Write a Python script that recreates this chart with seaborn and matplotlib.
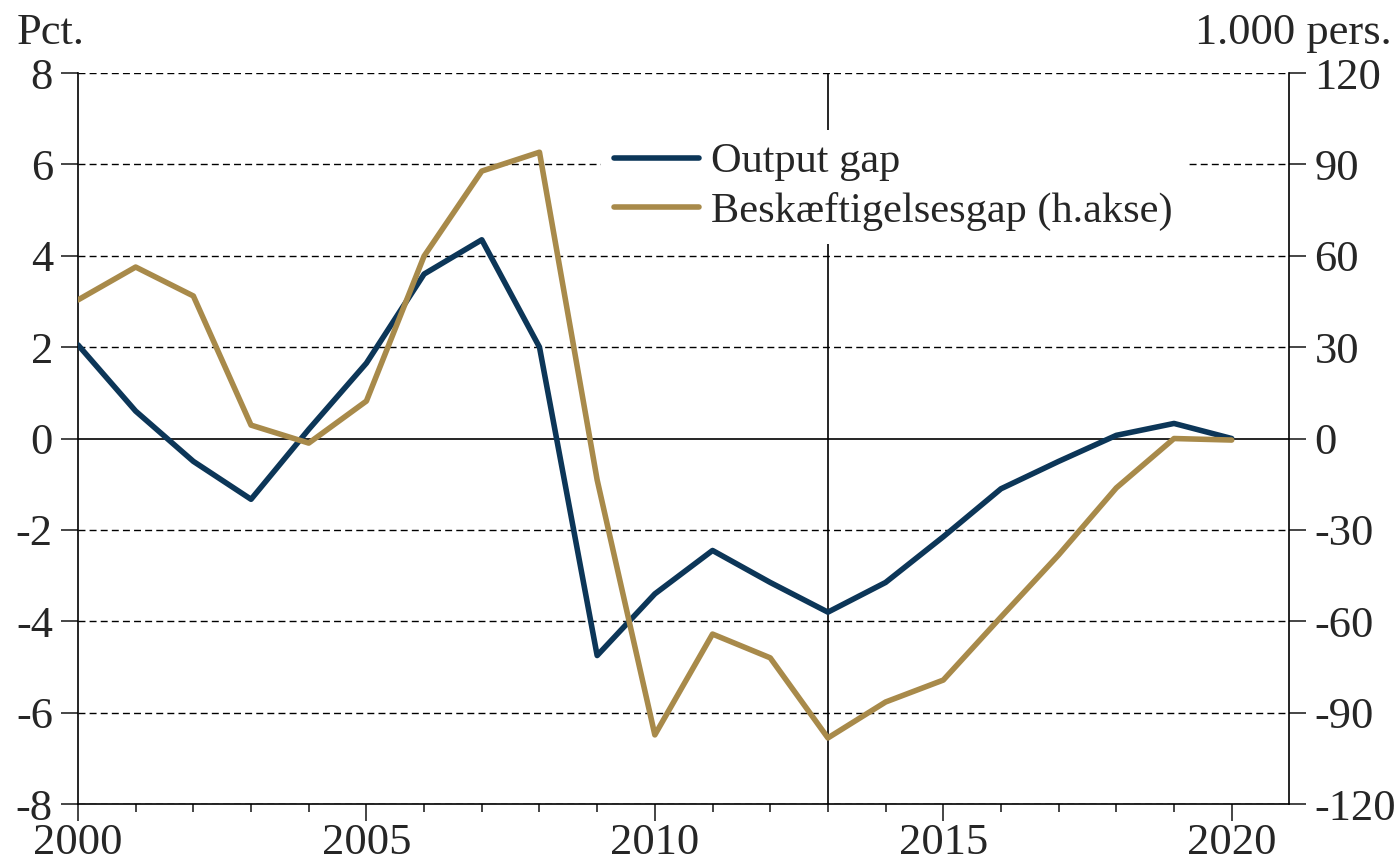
import numpy as np
import pandas as pd
import matplotlib
matplotlib.use('Agg')
import matplotlib.pyplot as plt
import seaborn as sns

years = list(range(2000, 2021))
output_gap = [2.05, 0.6, -0.5, -1.33, 0.2, 1.65, 3.6, 4.35, 2.0, -4.75, -3.4,
              -2.45, -3.15, -3.8, -3.15, -2.15, -1.1, -0.5, 0.07, 0.33, 0.0]
empl_gap = [45.5, 56.3, 46.8, 4.4, -1.5, 12.3, 59.9, 87.8, 94.0, -13.6, -97.3,
            -64.2, -72.0, -98.3, -86.5, -79.3, -58.6, -38.2, -16.2, 0.0, -0.5]
left_ticks = [-8, -6, -4, -2, 0, 2, 4, 6, 8]
right_ticks = [-120, -90, -60, -30, 0, 30, 60, 90, 120]
year_ticks = [2000, 2005, 2010, 2015, 2020]

navy = '#0c3658'
gold = '#a88a4a'

sns.set_style('white')
plt.rcParams['font.family'] = ['Liberation Serif', 'DejaVu Serif']
plt.rcParams['axes.unicode_minus'] = False
fs = 32

df = pd.DataFrame({'year': years, 'og': output_gap, 'eg': empl_gap})

fig = plt.figure(figsize=(14, 8.64), dpi=100)
ax = fig.add_axes([0.0557, 0.0694, 0.921 - 0.0557, 0.9155 - 0.0694])
ax2 = ax.twinx()

for y in left_ticks:
    if y == 0:
        ax.axhline(y, color='black', lw=1.2, zorder=1)
    else:
        ax.axhline(y, color='black', lw=1.0, ls=(0, (5, 3)), zorder=1)
ax.axvline(2013, color='black', lw=1.2, zorder=1)

sns.lineplot(data=df, x='year', y='og', ax=ax, color=navy, lw=4, label='Output gap', legend=False, zorder=3)
sns.lineplot(data=df, x='year', y='eg', ax=ax2, color=gold, lw=4, label='Beskæftigelsesgap (h.akse)', legend=False, zorder=3)

ax.set_xlim(2000, 2021)
ax.set_ylim(-8, 8)
ax2.set_ylim(-120, 120)
ax.set_yticks(left_ticks)
ax2.set_yticks(right_ticks)
ax.set_xticks(year_ticks)
ax.set_xticks(years, minor=True)
ax.set_xlabel('')
ax.set_ylabel('')
ax2.set_ylabel('')

for a in (ax, ax2):
    a.spines['top'].set_visible(False)
    for s in ('left', 'right', 'bottom'):
        a.spines[s].set_color('black')
        a.spines[s].set_linewidth(1.2)
ax.spines['right'].set_visible(False)
ax2.spines['left'].set_visible(False)
ax2.spines['bottom'].set_visible(False)

ax.tick_params(axis='y', direction='out', length=12, width=1.2, labelsize=fs, pad=6, left=True)
ax.tick_params(axis='x', which='major', direction='out', length=12, width=1.2, labelsize=fs, pad=2, bottom=True)
ax.tick_params(axis='x', which='minor', direction='out', length=6, width=1.2, bottom=True)
ax2.tick_params(axis='y', direction='out', length=12, width=1.2, labelsize=fs, pad=6, right=True)

ax.text(0.012, 0.985, 'Pct.', transform=fig.transFigure, fontsize=fs, ha='left', va='top')
ax.text(0.994, 0.985, '1.000 pers.', transform=fig.transFigure, fontsize=fs, ha='right', va='top')

h1, l1 = ax.get_legend_handles_labels()
h2, l2 = ax2.get_legend_handles_labels()
leg = ax2.legend(h1 + h2, l1 + l2, loc='upper left', bbox_to_anchor=(0.432, 0.922),
                 frameon=True, fancybox=False, facecolor='white', edgecolor='none',
                 framealpha=1, fontsize=30.5, handlelength=2.0, handletextpad=0.3,
                 labelspacing=0.25, borderaxespad=0, borderpad=0.3)
leg.set_zorder(5)

fig.savefig('out.png', dpi=100)
